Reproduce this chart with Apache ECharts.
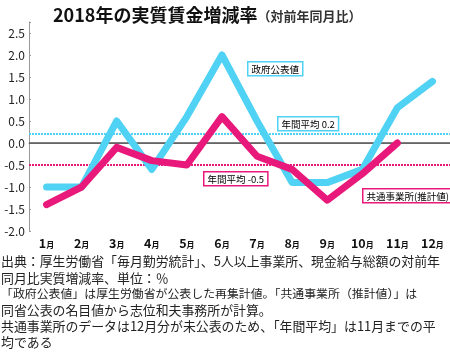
<!DOCTYPE html>
<html><head><meta charset="utf-8">
<script src="https://cdn.jsdelivr.net/npm/echarts@6/dist/echarts.min.js"></script>
<style>html,body{margin:0;padding:0;background:#fff}#c{width:450px;height:354px}</style>
</head><body><div id="c"></div>
<script>
const categories = ['1月','2月','3月','4月','5月','6月','7月','8月','9月','10月','11月','12月'];
const govValues = [-1.0, -1.0, 0.5, -0.6, 0.6, 2.0, 0.5, -0.9, -0.9, -0.6, 0.8, 1.4];
const estValues = [-1.4, -1.0, -0.1, -0.4, -0.5, 0.6, -0.3, -0.6, -1.3, -0.7, 0.0, null];
const govAverage = 0.2;
const estAverage = -0.5;
const yMin = -2.0, yMaxLabel = 2.5, yAxisTop = 2.75, yStep = 0.5;
const titleMain = '2018年の実質賃金増減率';
const titleSub = '（対前年同月比）';
const seriesNames = ['政府公表値', '共通事業所(推計値)'];
const avgLabels = ['年間平均 0.2', '年間平均 -0.5'];
const noteLines = [
  '出典：厚生労働省「毎月勤労統計」、5人以上事業所、現金給与総額の対前年',
  '同月比実質増減率、単位：％',
  '「政府公表値」は厚生労働省が公表した再集計値。「共通事業所（推計値）」は',
  '同省公表の名目値から志位和夫事務所が計算。',
  '共通事業所のデータは12月分が未公表のため、「年間平均」は11月までの平',
  '均である'
];
const noteSizes = [12.9, 12.9, 11.9, 12.9, 12.9, 12.9];

const FONT = '"Noto Sans CJK JP", "Noto Sans", sans-serif';
const BLUE = '#4fd2f4';
const PINK = '#e9197c';

const chart = echarts.init(document.getElementById('c'), null, {renderer: 'canvas'});

function boxLabel(text, x, y, color) {
  return {
    type: 'text', left: x, top: y, z: 100,
    style: {
      text: text, font: '9.5px ' + FONT, fill: '#000',
      backgroundColor: '#fff', borderColor: color, borderWidth: 1.5,
      padding: [2, 3, 1, 3]
    }
  };
}

const noteGraphics = noteLines.map(function (line, i) {
  return {
    type: 'text', left: 1, top: 255 + i * 16.2,
    style: {text: line, font: noteSizes[i] + 'px ' + FONT, fill: '#222'}
  };
});

const option = {
  animation: false,
  textStyle: {fontFamily: FONT},
  title: {
    left: 48, top: 1,
    text: '{a|' + titleMain + '}{b|' + titleSub + '}',
    textStyle: {
      rich: {
        a: {fontSize: 18, fontWeight: 'bold', color: '#111', fontFamily: FONT},
        b: {fontSize: 13, color: '#333', fontFamily: FONT, padding: [3, 0, 0, 0]}
      }
    }
  },
  grid: {left: 29, top: 22, width: 425, height: 209},
  xAxis: {
    type: 'category', data: categories, boundaryGap: true,
    axisLine: {lineStyle: {color: '#999', width: 1}},
    axisTick: {alignWithLabel: true, inside: true, length: 3, interval: 0, lineStyle: {color: '#999'}},
    axisLabel: {
      margin: 6, interval: 0,
      formatter: function (v) { return '{n|' + v.replace('月', '') + '}{m|月}'; },
      rich: {
        n: {fontSize: 12.5, fontWeight: 'bold', color: '#111', fontFamily: FONT},
        m: {fontSize: 8, fontWeight: 'bold', color: '#111', fontFamily: FONT, padding: [3, 0, 0, 0]}
      }
    },
    splitLine: {show: false}
  },
  yAxis: {
    type: 'value', min: yMin, max: yAxisTop, interval: yStep,
    axisLine: {show: true, lineStyle: {color: '#999', width: 1}},
    axisTick: {show: true, inside: true, length: 2, lineStyle: {color: '#999'}},
    axisLabel: {
      margin: 4, fontSize: 12, color: '#222',
      formatter: function (v) { return (Math.abs(v * 2 - Math.round(v * 2)) < 1e-9 && v <= yMaxLabel) ? v.toFixed(1) : ''; }
    },
    splitLine: {show: false}
  },
  series: [
    {
      name: seriesNames[0], type: 'line', data: govValues, symbol: 'none', z: 3,
      lineStyle: {color: BLUE, width: 7, cap: 'round', join: 'round'},
      markLine: {
        silent: true, symbol: 'none', z: 1, label: {show: false}, animation: false,
        data: [
          {yAxis: 0, lineStyle: {color: '#555', width: 1.5, type: 'solid'}},
          {yAxis: govAverage, lineStyle: {color: BLUE, width: 2, type: [2, 1]}}
        ]
      }
    },
    {
      name: seriesNames[1], type: 'line', data: estValues, symbol: 'none', z: 4,
      lineStyle: {color: PINK, width: 7, cap: 'round', join: 'round'},
      markLine: {
        silent: true, symbol: 'none', z: 1, label: {show: false}, animation: false,
        data: [
          {yAxis: estAverage, lineStyle: {color: PINK, width: 2, type: [2, 1]}}
        ]
      }
    }
  ],
  graphic: [
    boxLabel(seriesNames[0], 247, 61, BLUE),
    boxLabel(avgLabels[0], 277, 116, BLUE),
    boxLabel(avgLabels[1], 203, 171, PINK),
    boxLabel(seriesNames[1], 362, 188, PINK)
  ].concat(noteGraphics)
};
chart.setOption(option);
</script></body></html>
